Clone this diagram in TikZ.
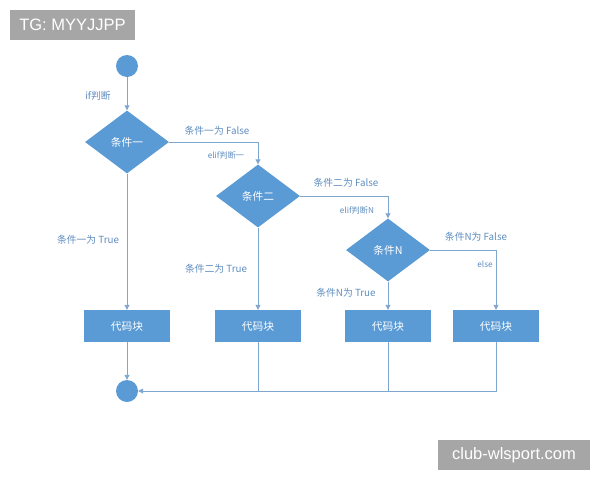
\documentclass[tikz,border=0pt]{standalone}
\usepackage{fontspec}
\setmainfont{Noto Sans CJK SC}
\newfontfamily\wmfont{Liberation Sans}
\usetikzlibrary{shapes.geometric,arrows.meta}
\definecolor{fillblue}{HTML}{5B9BD5}
\definecolor{lineblue}{HTML}{7EA6CE}
\definecolor{txtblue}{HTML}{5E8CBF}
\definecolor{wmgrey}{HTML}{A6A6A6}
\tikzset{
  term/.style={circle, fill=fillblue, minimum size=22pt, inner sep=0pt},
  dec/.style={diamond, fill=fillblue, minimum width=84pt, minimum height=63pt, inner sep=0pt, text=white, font=\fontsize{10.7}{12}\selectfont},
  codebox/.style={rectangle, fill=fillblue, minimum width=86pt, minimum height=32pt, inner sep=0pt, text=white, font=\fontsize{10.7}{12}\selectfont},
  conn/.style={draw=lineblue, line width=0.9pt},
  arr/.style={conn, -{Triangle[width=5pt,length=5pt]}},
  lbl/.style={text=txtblue, font=\fontsize{9.8}{11}\selectfont, inner sep=0pt},
  slbl/.style={text=txtblue, font=\fontsize{8.2}{9}\selectfont, inner sep=0pt},
  wm/.style={fill=wmgrey, text=white, font=\wmfont\fontsize{16.5}{18}\selectfont, inner sep=0pt}
}
\begin{document}
\begin{tikzpicture}[x=1pt,y=-1pt]
\useasboundingbox (0,0) rectangle (600,480);
\node[term] (s) at (127,66) {};
\node[dec] (d1) at (127,142) {条件一};
\node[dec] (d2) at (258,196) {条件二};
\node[dec] (d3) at (388,250) {条件N};
\node[codebox] (b1) at (127,326) {代码块};
\node[codebox] (b2) at (258,326) {代码块};
\node[codebox] (b3) at (388,326) {代码块};
\node[codebox] (b4) at (496,326) {代码块};
\node[term] (e) at (127,391) {};

\draw[arr] (s) -- (d1);
\draw[arr] (d1.east) -| (d2.north);
\draw[arr] (d2.east) -| (d3.north);
\draw[arr] (d3.east) -| (b4.north);
\draw[arr] (d1.south) -- (b1.north);
\draw[arr] (d2.south) -- (b2.north);
\draw[arr] (d3.south) -- (b3.north);
\draw[arr] (b1.south) -- (e.north);
\draw[arr] (b4.south) |- (e.east);
\draw[conn] (b2.south) -- (b2.south |- e.east);
\draw[conn] (b3.south) -- (b3.south |- e.east);

\node[lbl] (l1) at (98,96) {if判断};
\node[lbl] (l2) at (217,131) {条件一为 False};
\node[slbl] (l3) at (226,155) {elif判断一};
\node[lbl] (l4) at (346,183) {条件二为 False};
\node[slbl] (l5) at (357,210) {elif判断N};
\node[lbl] (l6) at (476,237) {条件N为 False};
\node[slbl] (l7) at (485,264) {else};
\node[lbl] (l8) at (88,240) {条件一为 True};
\node[lbl] (l9) at (216,269) {条件二为 True};
\node[lbl] (l10) at (346,293) {条件N为 True};

\node[wm, minimum width=125pt, minimum height=30pt] (w1) at (72.5,25) {TG: MYYJJPP};
\node[wm, minimum width=152pt, minimum height=30pt] (w2) at (514,455) {club-wlsport.com};
\end{tikzpicture}
\end{document}
